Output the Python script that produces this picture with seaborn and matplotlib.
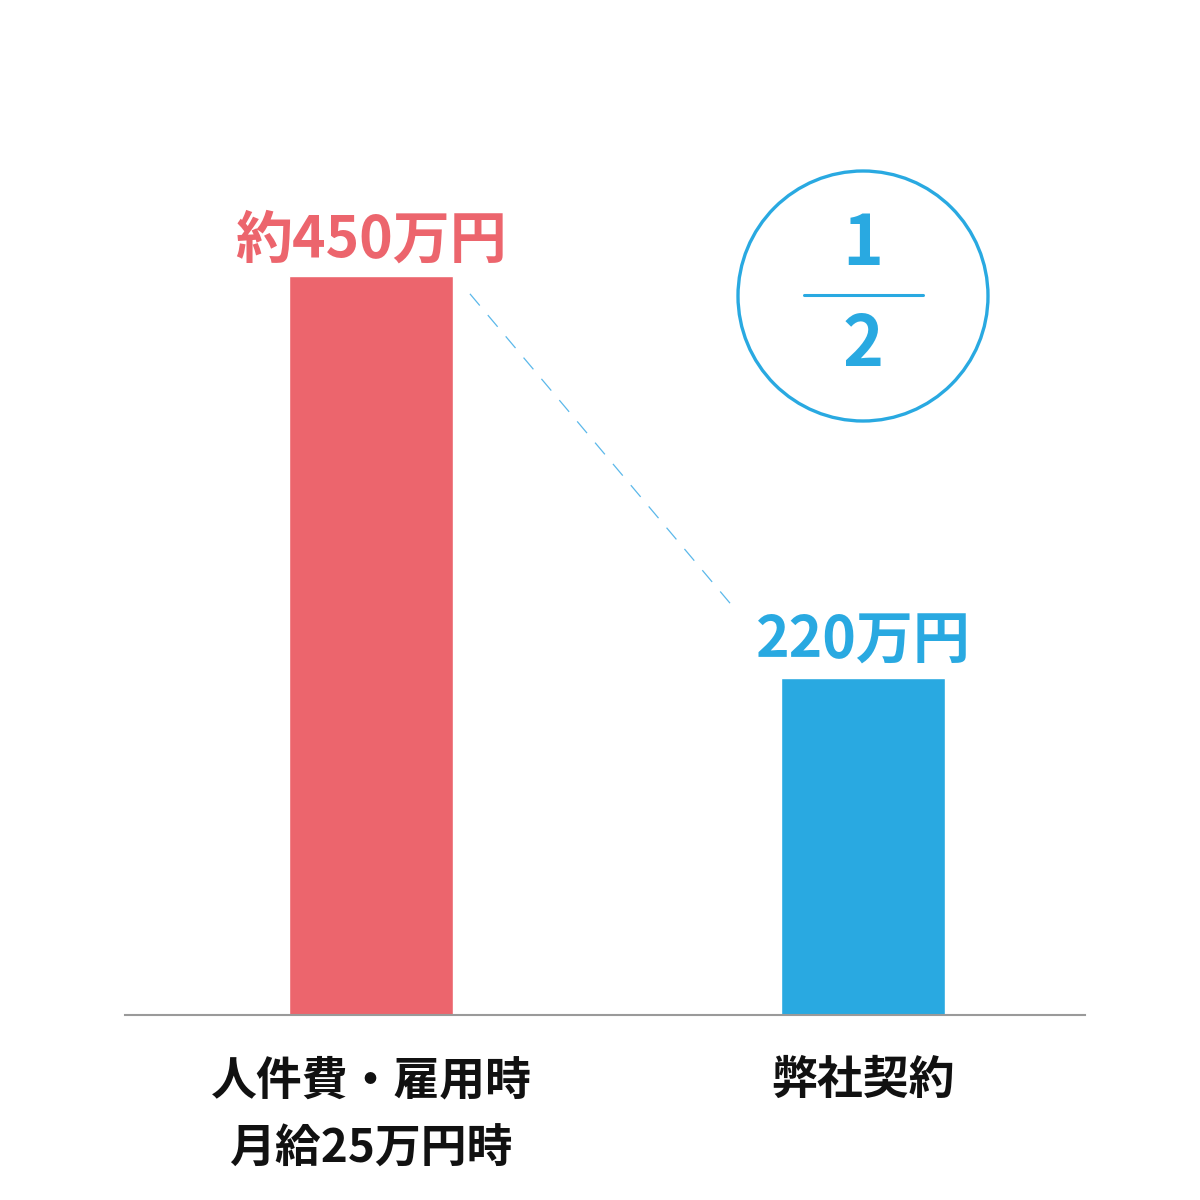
import matplotlib
matplotlib.use("Agg")
import matplotlib.pyplot as plt
from matplotlib.patches import Circle
from matplotlib.lines import Line2D
import seaborn as sns
import pandas as pd

categories = ["人件費・雇用時\n月給25万円時", "弊社契約"]
values = [450, 220]
value_labels = ["約450万円", "220万円"]
colors = ["#EC656D", "#29A9E1"]
fraction_top = "1"
fraction_bottom = "2"

sns.set_theme(style="white")
plt.rcParams['font.family'] = ['Noto Sans CJK JP', 'DejaVu Sans']
plt.rcParams['lines.scale_dashes'] = False

df = pd.DataFrame({"cat": categories, "val": values})

fig = plt.figure(figsize=(12, 12), dpi=100)
ax = fig.add_axes([125/1200, 185/1200, 960/1200, 915/1200])
sns.barplot(data=df, x="cat", y="val", hue="cat", palette=colors,
            width=0.333, saturation=1, legend=False, ax=ax)

ax.set_xlim(-0.5, 1.451)
ax.set_ylim(27, 551)
for s in ["top", "right", "left"]:
    ax.spines[s].set_visible(False)
ax.spines["bottom"].set_color("#9a9a9a")
ax.spines["bottom"].set_linewidth(1.5)
ax.set_xlabel("")
ax.set_ylabel("")
ax.set_yticks([])
ax.tick_params(axis="x", length=0, pad=31)
for lab in ax.get_xticklabels():
    lab.set_fontsize(33)
    lab.set_fontweight("bold")
    lab.set_color("#111111")
    lab.set_linespacing(1.62)
    lab.set_verticalalignment("top")

for i, (v, t, c) in enumerate(zip(values, value_labels, colors)):
    ax.annotate(t, xy=(i, v), xytext=(0, 5), textcoords="offset points",
                ha="center", va="bottom", fontsize=41, fontweight="bold", color=c)

# dashed connector
ax.add_line(Line2D([0.201, 0.744], [values[0] - 10, values[1] + 38],
                   color="#5BB8EA", lw=0.9, dashes=(11, 9)))

# circle with fraction
fig.add_artist(Circle((863/1200, 1 - 296/1200), 125/1200, transform=fig.transFigure,
                      fill=False, edgecolor=colors[1], lw=2.4))
fig.add_artist(Line2D([804/1200, 923/1200], [1 - 295/1200, 1 - 295/1200],
                      transform=fig.transFigure, color=colors[1], lw=2.2))
fig.text(863/1200, 1 - 245/1200, fraction_top, ha="center", va="center",
         fontsize=50, fontweight="bold", color=colors[1])
fig.text(863/1200, 1 - 346/1200, fraction_bottom, ha="center", va="center",
         fontsize=50, fontweight="bold", color=colors[1])

fig.savefig("out.png", dpi=100, facecolor="white")
